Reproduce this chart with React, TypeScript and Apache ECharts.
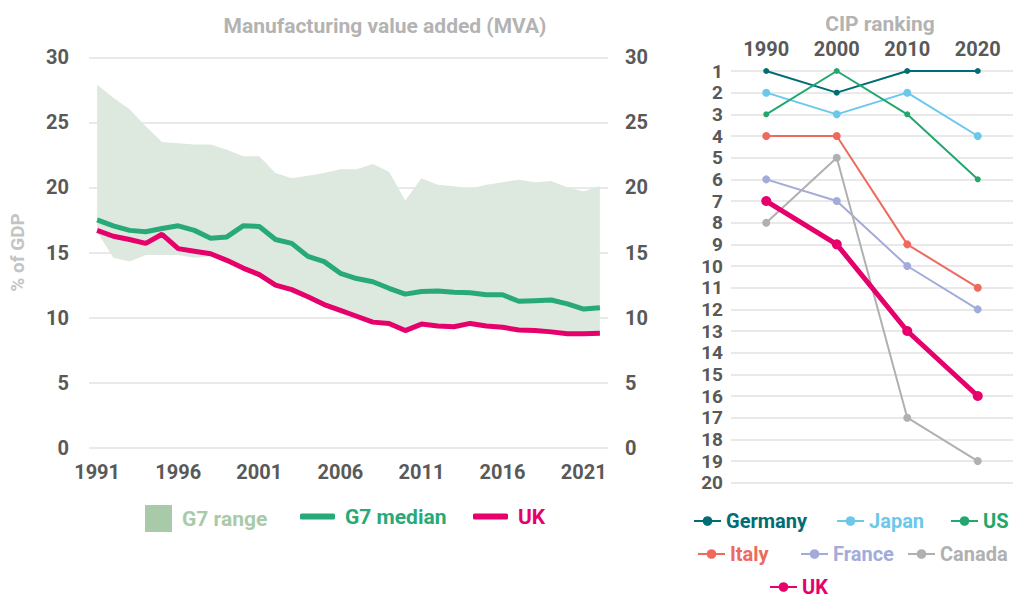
import React, { useEffect, useRef } from "react";
import * as echarts from "echarts";

const FONT = "Roboto, 'Noto Sans', sans-serif";

// ---- Left chart data: Manufacturing value added (% of GDP) ----
const years = [
  "1991", "1992", "1993", "1994", "1995", "1996", "1997", "1998", "1999", "2000",
  "2001", "2002", "2003", "2004", "2005", "2006", "2007", "2008", "2009", "2010",
  "2011", "2012", "2013", "2014", "2015", "2016", "2017", "2018", "2019", "2020",
  "2021", "2022",
];
const g7Upper = [
  27.9, 26.9, 26.0, 24.7, 23.5, 23.4, 23.3, 23.3, 22.9, 22.4,
  22.4, 21.1, 20.7, 20.9, 21.1, 21.4, 21.4, 21.8, 21.2, 19.0,
  20.7, 20.2, 20.1, 19.9, 20.2, 20.4, 20.6, 20.4, 20.5, 20.0,
  19.7, 20.1,
];
const g7Lower = [
  16.6, 14.6, 14.3, 14.8, 14.8, 14.8, 14.6, 14.7, 14.4, 13.8,
  13.3, 12.5, 12.15, 11.6, 11.0, 10.55, 10.1, 9.65, 9.55, 9.0,
  9.5, 9.35, 9.3, 9.55, 9.35, 9.25, 9.05, 9.0, 8.9, 8.75,
  8.75, 8.8,
];
const g7Median = [
  17.5, 17.05, 16.7, 16.6, 16.85, 17.05, 16.7, 16.1, 16.2, 17.05,
  17.0, 16.0, 15.7, 14.7, 14.3, 13.4, 13.0, 12.75, 12.25, 11.8,
  12.0, 12.05, 11.95, 11.9, 11.75, 11.75, 11.25, 11.3, 11.35, 11.05,
  10.65, 10.75,
];
const ukMva = [
  16.7, 16.25, 16.0, 15.7, 16.4, 15.3, 15.1, 14.9, 14.4, 13.8,
  13.3, 12.5, 12.15, 11.6, 11.0, 10.55, 10.1, 9.65, 9.55, 9.0,
  9.5, 9.35, 9.3, 9.55, 9.35, 9.25, 9.05, 9.0, 8.9, 8.75,
  8.75, 8.8,
];
const mvaTicks = [0, 5, 10, 15, 20, 25, 30];

// ---- Right chart data: CIP ranking ----
const cipYears = ["1990", "2000", "2010", "2020"];
const germany = [1, 2, 1, 1];
const japan = [2, 3, 2, 4];
const us = [3, 1, 3, 6];
const italy = [4, 4, 9, 11];
const france = [6, 7, 10, 12];
const canada = [8, 5, 17, 19];
const ukCip = [7, 9, 13, 16];

const C_UK = "#e5006b";
const C_MED = "#27a978";
const C_BAND = "#dde9de";
const C_BAND_LEG = "#a9caa9";
const AXIS_TXT = "#595959";
const GREY_TXT = "#b3b3b3";
const GRID = "#e2e2e2";

function leftOption(): any {
  const bandDiff = g7Upper.map((u, i) => +(u - g7Lower[i]).toFixed(2));
  const yBase = {
    type: "value",
    min: mvaTicks[0],
    max: mvaTicks[mvaTicks.length - 1],
    interval: 5,
    axisLine: { show: false },
    axisTick: { show: false },
  };
  const legText = { fontFamily: FONT, fontWeight: "bold", fontSize: 21, padding: [0, 0, 0, 5] };
  return {
    animation: false,
    title: {
      text: "Manufacturing value added (MVA)",
      left: 380,
      top: 10,
      textAlign: "center",
      textStyle: { fontFamily: FONT, fontWeight: "bold", fontSize: 21, color: GREY_TXT },
    },
    grid: { left: 88, right: 72, top: 57.3, bottom: 152.3 },
    legend: [
      {
        left: 145,
        top: 505,
        padding: 0,
        itemWidth: 27,
        itemHeight: 27,
        data: [{ name: "G7 range", icon: "rect", itemStyle: { color: C_BAND_LEG } }],
        textStyle: { ...legText, color: C_BAND_LEG },
      },
      {
        left: 300,
        top: 506,
        padding: 0,
        itemWidth: 35,
        itemHeight: 6,
        data: [{ name: "G7 median", icon: "roundRect", itemStyle: { color: C_MED } }],
        textStyle: { ...legText, color: C_MED },
      },
      {
        left: 473,
        top: 506,
        padding: 0,
        itemWidth: 35,
        itemHeight: 6,
        data: [{ name: "UK", icon: "roundRect", itemStyle: { color: C_UK } }],
        textStyle: { ...legText, color: C_UK },
      },
    ],
    xAxis: {
      type: "category",
      data: years,
      boundaryGap: true,
      axisLine: { show: false },
      axisTick: { show: false },
      axisLabel: {
        interval: 4,
        margin: 14,
        fontFamily: FONT,
        fontWeight: "bold",
        fontSize: 20,
        color: AXIS_TXT,
      },
    },
    yAxis: [
      {
        ...yBase,
        position: "left",
        name: "% of GDP",
        nameLocation: "middle",
        nameRotate: 90,
        nameGap: 62,
        nameTextStyle: { fontFamily: FONT, fontWeight: "bold", fontSize: 19, color: "#c4c4c4" },
        splitLine: { show: true, lineStyle: { color: GRID, width: 1.5 } },
        axisLabel: { margin: 20, fontFamily: FONT, fontWeight: "bold", fontSize: 20, color: AXIS_TXT },
      },
      {
        ...yBase,
        position: "right",
        splitLine: { show: false },
        axisLabel: { margin: 17, fontFamily: FONT, fontWeight: "bold", fontSize: 20, color: AXIS_TXT },
      },
    ],
    series: [
      {
        name: "g7base",
        type: "line",
        data: g7Lower,
        stack: "g7",
        symbol: "none",
        lineStyle: { opacity: 0, width: 0 },
        silent: true,
        z: 1,
      },
      {
        name: "G7 range",
        type: "line",
        data: bandDiff,
        stack: "g7",
        symbol: "none",
        itemStyle: { color: C_BAND_LEG },
        lineStyle: { opacity: 0, width: 0 },
        areaStyle: { color: C_BAND, opacity: 1 },
        silent: true,
        z: 1,
      },
      {
        name: "G7 median",
        type: "line",
        data: g7Median,
        symbol: "none",
        itemStyle: { color: C_MED },
        lineStyle: { color: C_MED, width: 5 },
        z: 3,
      },
      {
        name: "UK",
        type: "line",
        data: ukMva,
        symbol: "none",
        itemStyle: { color: C_UK },
        lineStyle: { color: C_UK, width: 5 },
        z: 4,
      },
    ],
  };
}

function rightOption(): any {
  const defs = [
    { name: "Germany", data: germany, color: "#006d75", w: 2, s: 6, lx: 13, ly: 511 },
    { name: "Japan", data: japan, color: "#6cc8ea", w: 2, s: 8, lx: 156, ly: 511 },
    { name: "US", data: us, color: "#22a86c", w: 2, s: 6, lx: 270, ly: 511 },
    { name: "Italy", data: italy, color: "#ee6a5f", w: 2, s: 8, lx: 17, ly: 544 },
    { name: "France", data: france, color: "#a3abdb", w: 2, s: 8, lx: 120, ly: 544 },
    { name: "Canada", data: canada, color: "#b0b0b0", w: 2, s: 8, lx: 227, ly: 544 },
    { name: "UK", data: ukCip, color: C_UK, w: 5, s: 10, lx: 89, ly: 577 },
  ];
  return {
    animation: false,
    title: {
      text: "CIP ranking",
      left: 195,
      top: 8,
      textAlign: "center",
      textStyle: { fontFamily: FONT, fontWeight: "bold", fontSize: 21, color: GREY_TXT },
    },
    grid: { left: 51, right: 1, top: 71, bottom: 117.3 },
    legend: defs.map((d) => ({
      left: d.lx,
      top: d.ly,
      padding: 0,
      itemWidth: 27,
      itemHeight: 12,
      data: [{ name: d.name, textStyle: { color: d.color } }],
      textStyle: { fontFamily: FONT, fontWeight: "bold", fontSize: 20 },
    })),
    xAxis: {
      type: "category",
      data: cipYears,
      position: "top",
      boundaryGap: true,
      axisLine: { show: false },
      axisTick: { show: false },
      axisLabel: { margin: 12, fontFamily: FONT, fontWeight: "bold", fontSize: 20, color: AXIS_TXT },
    },
    yAxis: {
      type: "value",
      inverse: true,
      min: 1,
      max: 20,
      interval: 1,
      axisLine: { show: false },
      axisTick: { show: false },
      splitLine: { show: true, lineStyle: { color: GRID, width: 1.5 } },
      axisLabel: {
        margin: 8,
        fontFamily: FONT,
        fontWeight: "bold",
        fontSize: 19,
        lineHeight: 20,
        color: AXIS_TXT,
      },
    },
    series: defs.map((d, i) => ({
      name: d.name,
      type: "line",
      data: d.data,
      symbol: "circle",
      symbolSize: d.s,
      itemStyle: { color: d.color },
      lineStyle: { color: d.color, width: d.w },
      z: d.name === "UK" ? 10 : 2 + i,
    })),
  };
}

export default function App() {
  const leftRef = useRef<HTMLDivElement>(null);
  const rightRef = useRef<HTMLDivElement>(null);

  useEffect(() => {
    const l = echarts.init(leftRef.current!, undefined, { renderer: "svg" });
    const r = echarts.init(rightRef.current!, undefined, { renderer: "svg" });
    l.setOption(leftOption());
    r.setOption(rightOption());
    return () => {
      l.dispose();
      r.dispose();
    };
  }, []);

  return (
    <div style={{ position: "absolute", left: 0, top: 0, width: 1014, height: 600, background: "#fff" }}>
      <div ref={leftRef} style={{ position: "absolute", left: 0, top: 0, width: 680, height: 600 }} />
      <div ref={rightRef} style={{ position: "absolute", left: 680, top: 0, width: 334, height: 600 }} />
    </div>
  );
}
